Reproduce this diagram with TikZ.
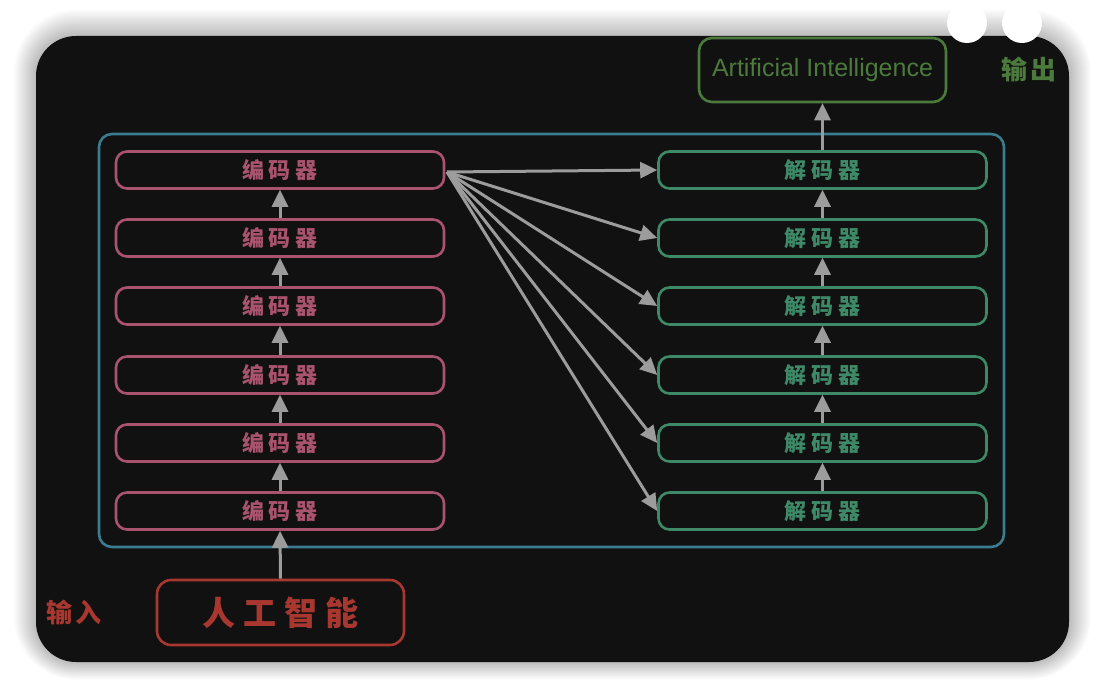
\documentclass[tikz,border=0pt]{standalone}
\usepackage{fontspec}
\setmainfont{Liberation Sans}
\newfontfamily\cjk{Noto Sans CJK SC}
\usetikzlibrary{arrows.meta}
\definecolor{bgblack}{HTML}{111111}
\definecolor{frameblue}{HTML}{3A7C90}
\definecolor{encpink}{HTML}{A9536E}
\definecolor{decgreen}{HTML}{3E8A68}
\definecolor{outgreen}{HTML}{4B7A3C}
\definecolor{inred}{HTML}{A8382F}
\definecolor{arrowgray}{HTML}{9C9C9C}
\tikzset{
  encbox/.style={draw=encpink, line width=2.6pt, rounded corners=11pt, minimum width=328pt, minimum height=37pt, inner sep=0pt, text=encpink, font=\cjk\bfseries\fontsize{22}{22}\selectfont},
  decbox/.style={draw=decgreen, line width=2.6pt, rounded corners=11pt, minimum width=328pt, minimum height=37pt, inner sep=0pt, text=decgreen, font=\cjk\bfseries\fontsize{22}{22}\selectfont},
  flow/.style={draw=arrowgray, line width=3pt, -{Triangle[length=17pt,width=16pt]}},
}
\begin{document}
\begin{tikzpicture}[x=1pt,y=-1pt]
\useasboundingbox (0,0) rectangle (1106,698);
\fill[white] (0,0) rectangle (1106,698);
% soft shadow
\foreach \k in {1,...,22}{
  \fill[black, opacity=0.012, rounded corners={40pt+\k pt}] (36-\k,36-\k*1.2) rectangle (1069+\k,662+\k*0.8);
}
% panel
\fill[bgblack, rounded corners=40pt] (36,36) rectangle (1069,662);
\fill[white] (967,23) circle (20);
\fill[white] (1022,23) circle (20);
% container
\node[draw=frameblue, line width=2.6pt, rounded corners=13pt, minimum width=905pt, minimum height=413pt, inner sep=0pt] (frame) at (551.5,340.5) {};
% encoders and decoders
\foreach \i/\y in {1/170,2/238,3/306,4/375,5/443,6/511}{
  \node[encbox] (e\i) at (280,\y) {编\hspace{5pt}码\hspace{5pt}器};
  \node[decbox] (d\i) at (822.5,\y) {解\hspace{5pt}码\hspace{5pt}器};
}
% vertical arrows
\foreach \a/\b in {6/5,5/4,4/3,3/2,2/1}{
  \draw[flow] (e\a.north) -- (e\b.south);
  \draw[flow] (d\a.north) -- (d\b.south);
}
% input / output
\node[draw=inred, line width=2.6pt, rounded corners=14pt, minimum width=247pt, minimum height=65pt, inner sep=0pt, text=inred, font=\cjk\bfseries\fontsize{33}{33}\selectfont] (in) at (280.5,612.5) {人\hspace{8pt}工\hspace{8pt}智\hspace{8pt}能};
\node[text=inred, font=\cjk\bfseries\fontsize{26}{26}\selectfont] (inlab) at (74,612) {输\hspace{3pt}入};
\node[draw=outgreen, line width=2.6pt, rounded corners=13pt, minimum width=247pt, minimum height=64pt, inner sep=0pt, text=outgreen, font=\fontsize{25}{25}\selectfont] (out) at (822.5,70) {Artificial Intelligence};
\node[text=outgreen, font=\cjk\bfseries\fontsize{26}{26}\selectfont] (outlab) at (1029,70) {输\hspace{3pt}出};
\draw[flow] (in.north) -- (e6.south);
\draw[flow] (d1.north) -- (out.south);
% fan
\coordinate (src) at (447,172);
\foreach \i in {1,...,6}{
  \draw[flow] (src) -- (d\i.west);
}
\end{tikzpicture}
\end{document}
